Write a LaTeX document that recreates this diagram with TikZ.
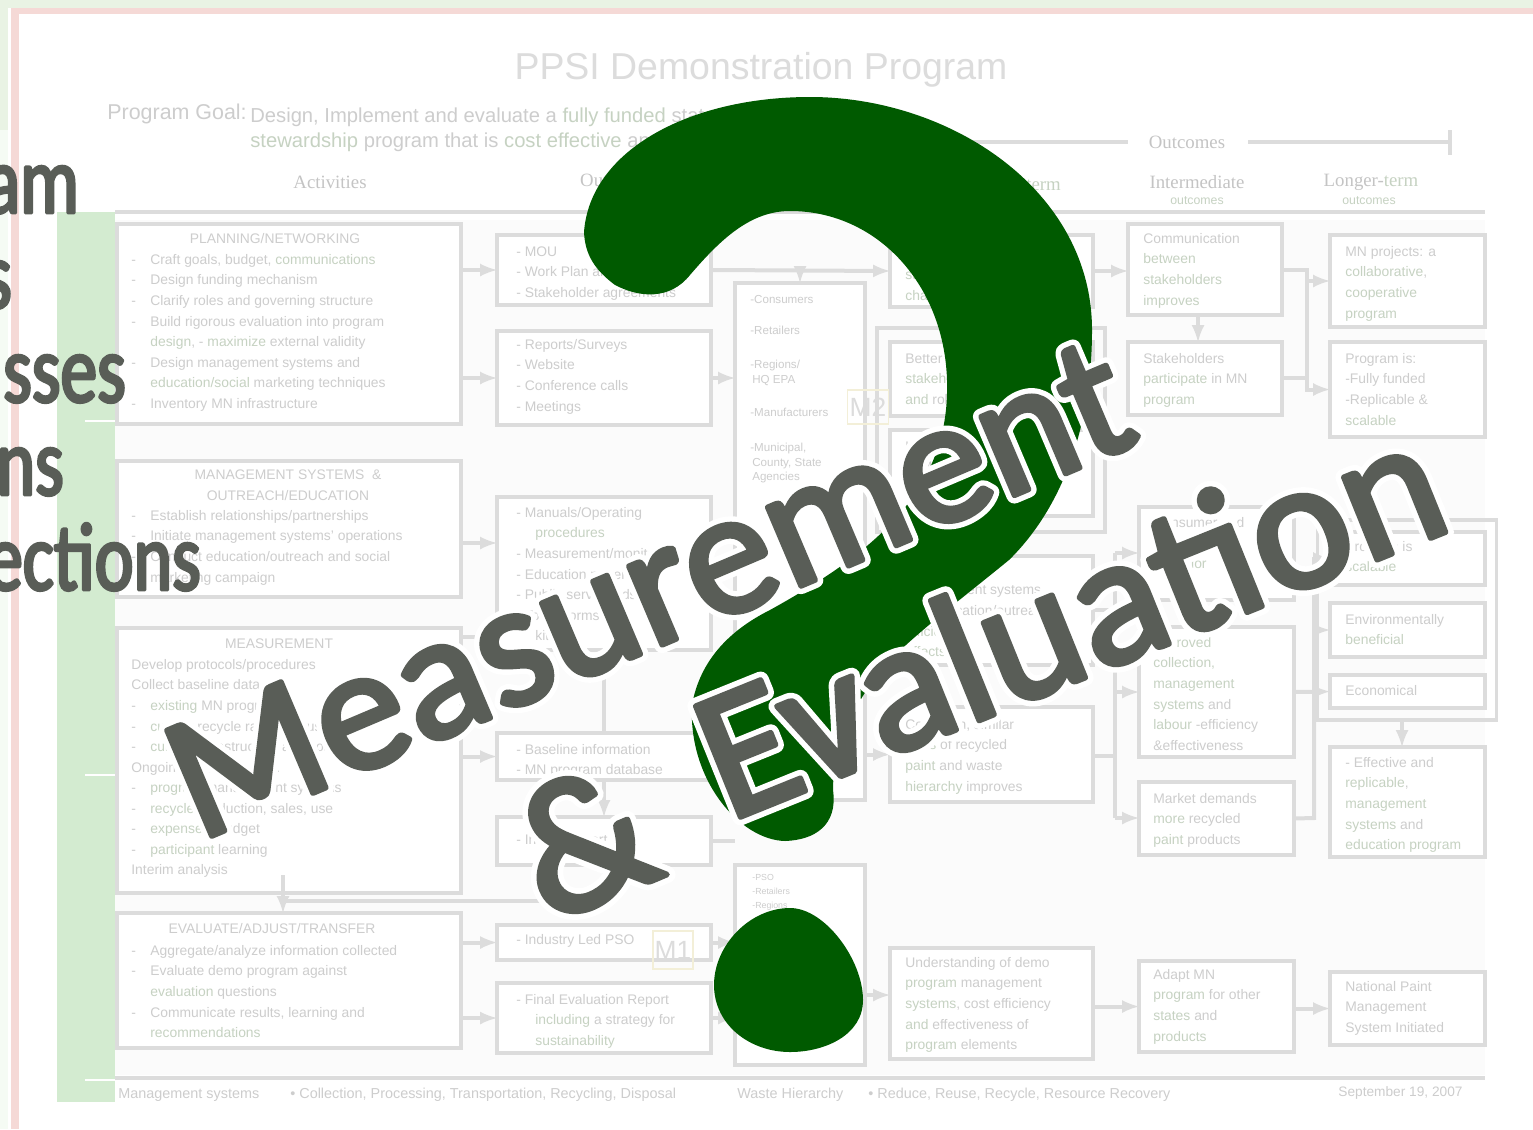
\documentclass[tikz,border=0pt]{standalone}
\usepackage{fontspec}
\usepackage{tikz}
\usetikzlibrary{shapes.geometric, arrows}
\setmainfont{Liberation Sans}
\newfontfamily\slabfont{Liberation Serif}
\newfontfamily\inkfont[FakeBold=3]{Carlito}
\newfontfamily\sideink[FakeBold=3,FakeStretch=0.76]{Carlito}
\newfontfamily\halofont[FakeBold=9]{Carlito}
\definecolor{linegrey}{HTML}{DCDCDC}
\definecolor{textgrey}{HTML}{CDCDCD}
\definecolor{headgrey}{HTML}{C4C4C4}
\definecolor{wavegreen}{HTML}{C6D2C2}
\definecolor{inkgrey}{HTML}{595D57}
\definecolor{qgreen}{HTML}{005A00}
\definecolor{markline}{HTML}{F3EFD8}
\definecolor{topgreen}{HTML}{E9F3E4}
\definecolor{sidegreen}{HTML}{F5FBF4}
\definecolor{edgepink}{HTML}{F5D9D6}
\definecolor{bargreen}{HTML}{D3EBD0}
\definecolor{panelgrey}{HTML}{FBFBFB}
\tikzstyle{link} = [line width=0.08cm,color=linegrey,->,>=latex]
\tikzstyle{plain} = [line width=0.08cm,color=linegrey]
\tikzstyle{pbox} = [draw=linegrey,line width=0.07cm,fill=white,inner sep=0pt,outer sep=0pt]
\tikzstyle{ptext} = [anchor=north west,inner sep=0pt,align=left,text=textgrey,font=\fontsize{7.9}{11.7}\selectfont]
\tikzstyle{phead} = [inner sep=0pt,text=textgrey,align=center,font=\fontsize{7.9}{11.7}\selectfont]
\tikzstyle{colhead} = [inner sep=0pt,text=headgrey,font=\slabfont\fontsize{10.7}{12}\selectfont]
\tikzstyle{foot} = [anchor=west,inner sep=0pt,text=textgrey,font=\fontsize{8.2}{10}\selectfont]
\tikzstyle{mbox} = [draw=markline,line width=0.03cm,inner sep=0pt,outer sep=0pt,text=linegrey,font=\fontsize{15}{15}\selectfont]
\tikzstyle{leftink} = [anchor=base east,text=inkgrey,font=\sideink\fontsize{55}{55}\selectfont]
% box corners, text start, text
\newcommand{\pbx}[8]{
  \node[pbox,minimum width={(#4-#2)*0.02cm},minimum height={(#5-#3)*0.02cm}] (#1) at ({(#2+#4)/2},{(#3+#5)/2}) {};
  \node[ptext] (#1t) at (#6,#7) {#8};
}
\newcommand{\inkline}[6]{
  \node[anchor=base west,rotate=#5,inner sep=0pt,text=white,font=\halofont\fontsize{#4}{#4}\selectfont] (#1h) at (#2,#3) {#6};
  \node[anchor=base west,rotate=#5,inner sep=0pt,text=inkgrey,font=\inkfont\fontsize{#4}{#4}\selectfont] (#1) at (#2,#3) {#6};
}
\newcommand{\dd}{\makebox[0.38cm][l]{-}}
\newcommand{\nn}{\hspace*{0.38cm}}
\newcommand{\wv}[1]{{\color{wavegreen}#1}}
\begin{document}
\begin{tikzpicture}[x=0.02cm,y=-0.02cm]
  \useasboundingbox (0,0) rectangle (1533,1129);
  \clip (0,0) rectangle (1533,1129);
  % Background bands
  \fill[white] (0,0) rectangle (1533,1129);
  \fill[topgreen] (0,0) rectangle (1533,8);
  \fill[topgreen] (0,0) rectangle (8,130);
  \fill[sidegreen] (0,130) rectangle (8,1129);
  \fill[edgepink] (11,8) rectangle (1533,14);
  \fill[edgepink] (11,8) rectangle (19,1129);
  \fill[bargreen] (57,212) rectangle (115,1102);
  \fill[panelgrey] (115,220) rectangle (1485,1075);
  \draw[white,line width=0.03cm] (85,421) -- (115,421);
  \draw[white,line width=0.03cm] (85,775) -- (115,775);
  \draw[white,line width=0.03cm] (85,1080) -- (115,1080);
  % Headers
  \node[inner sep=0pt,text=linegrey,font=\fontsize{21.3}{22}\selectfont] (title) at (761,70) {PPSI Demonstration Program};
  \node[anchor=west,inner sep=0pt,text=textgrey,font=\fontsize{12.2}{14}\selectfont] (goal) at (107,114) {Program Goal:};
  \node[anchor=north west,inner sep=0pt,text=textgrey,align=left,font=\fontsize{11.5}{13.8}\selectfont] (goaltext) at (250,108) {Design, Implement and evaluate a \wv{fully funded} state\\ \wv{stewardship} program that is \wv{cost effective} and};
  \node[colhead] (H1) at (330,182) {Activities};
  \node[colhead] (H2) at (610,182) {Outputs};
  \node[colhead] (H3) at (1020,184) {Short-\wv{term}};
  \node[colhead] (H4) at (1197,182) {Intermediate};
  \node[colhead] (H5) at (1371,182) {Longer-\wv{term}};
  \node[inner sep=0pt,font=\fontsize{7}{8}\selectfont] (H6) at (1197,201) {\wv{outcomes}};
  \node[inner sep=0pt,font=\fontsize{7}{8}\selectfont] (H7) at (1369,201) {\wv{outcomes}};
  \node[colhead] (H8) at (1187,142) {Outcomes};
  \coordinate (R1) at (800,142);
  \coordinate (R2) at (1128,142);
  \coordinate (R3) at (1248,142);
  \coordinate (R4) at (1450,142);
  \coordinate (R5) at (1450,130);
  \coordinate (R6) at (1450,155);
  \draw[plain] (R1) -- (R2);
  \draw[plain] (R3) -- (R4);
  \draw[plain] (R5) -- (R6);
  \coordinate (T1) at (115,212);
  \coordinate (T2) at (1485,212);
  \coordinate (T3) at (115,1078);
  \coordinate (T4) at (1485,1078);
  \draw[plain] (T1) -- (T2);
  \draw[plain] (T3) -- (T4);
  % Activities
  \pbx{A1}{117}{224}{461}{424}{131}{254}{\dd Craft goals, budget, \wv{communications}\\\dd Design funding mechanism\\\dd Clarify roles and governing structure\\\dd Build rigorous evaluation into program\\\nn\wv{design}, - \wv{maximize} external validity\\\dd Design management systems and\\\nn\wv{education/social} marketing techniques\\\dd Inventory MN infrastructure}
  \node[phead] (A1h) at (275,239) {PLANNING/NETWORKING};
  \pbx{A2}{117}{461}{461}{597}{131}{510}{\dd Establish relationships/partnerships\\\dd Initiate management systems' operations\\\dd Conduct education/outreach and social\\\nn marketing campaign}
  \node[phead] (A2h) at (288,485) {MANAGEMENT SYSTEMS \ \&\\OUTREACH/EDUCATION};
  \pbx{A3}{117}{628}{461}{893}{131}{659}{Develop protocols/procedures\\Collect baseline data\\\dd\wv{existing} MN programs\\\dd\wv{current} recycle rates and uses\\\dd\wv{current} infrastructure and costs\\Ongoing data collection:\\\dd\wv{program} management systems\\\dd\wv{recycle} production, sales, use\\\dd\wv{expenses}, budget\\\dd\wv{participant} learning\\Interim analysis}
  \node[phead] (A3h) at (279,644) {MEASUREMENT};
  \pbx{A4}{117}{913}{461}{1048}{131}{945}{\dd Aggregate/analyze information collected\\\dd Evaluate demo program against\\\nn\wv{evaluation} questions\\\dd Communicate results, learning and\\\nn\wv{recommendations}}
  \node[phead] (A4h) at (272,929) {EVALUATE/ADJUST/TRANSFER};
  % Outputs
  \pbx{O1}{497}{235}{711}{305}{516}{246}{- MOU\\- Work Plan and\\- Stakeholder agreements}
  \pbx{O2}{497}{331}{711}{425}{516}{339}{- Reports/Surveys\\- Website\\- Conference calls\\- Meetings}
  \pbx{O3}{497}{497}{711}{650}{516}{507}{- Manuals/Operating\\\nn\wv{procedures}\\- Measurement/monitor\\- Education materials\\- Public service ads\\- Tools, forms and\\\nn kits}
  \pbx{O4}{497}{733}{711}{780}{516}{744}{- Baseline information\\- MN program database}
  \pbx{O5}{497}{817}{711}{865}{516}{834}{- Interim report}
  \pbx{O6}{497}{925}{711}{960}{516}{934}{- Industry Led PSO}
  \pbx{O7}{497}{983}{711}{1053}{516}{994}{- Final Evaluation Report\\\nn\wv{including} a strategy for\\\nn\wv{sustainability}}
  % Audiences
  \pbx{P1}{735}{283}{865}{800}{750}{293}{}
  \node[ptext,font=\fontsize{6.6}{8.5}\selectfont] (P1w) at (750,295) {-Consumers\\[0.32cm]-Retailers\\[0.38cm]-Regions/\\ \,HQ EPA\\[0.36cm]-Manufacturers\\[0.4cm]-Municipal,\\ \,County, State\\ \,Agencies};
  \pbx{P2}{735}{865}{865}{1065}{752}{874}{}
  \node[ptext,font=\fontsize{5}{8}\selectfont] (P2w) at (752,874) {-PSO\\-Retailers\\-Regions};
  % Short-term
  \node[pbox,fill=none,minimum width=4.56cm,minimum height=4.08cm] (SG) at (991,430) {};
  \pbx{S1}{890}{235}{1093}{307}{905}{249}{MN\\\wv{stakeholders}\\\wv{change}}
  \pbx{S2}{890}{342}{1093}{416}{905}{353}{Better understanding\\\wv{stakeholders}\\\wv{and} roles}
  \pbx{S3}{890}{430}{1093}{516}{905}{441}{Understanding\\of MN issues}
  \pbx{S4}{890}{556}{1093}{665}{905}{585}{Management systems\\and education/outreach\\\wv{efficiency}\\\wv{effects}}
  \pbx{S5}{890}{707}{1093}{802}{905}{719}{Collection, similar\\\wv{rates} of recycled\\\wv{paint} and waste\\\wv{hierarchy} improves}
  \pbx{S6}{890}{948}{1093}{1059}{905}{957}{Understanding of demo\\\wv{program} management\\\wv{systems}, cost efficiency\\\wv{and} effectiveness of\\\wv{program} elements}
  % Intermediate
  \pbx{I1}{1128}{224}{1282}{315}{1143}{233}{Communication\\\wv{between}\\\wv{stakeholders}\\\wv{improves}}
  \pbx{I2}{1128}{342}{1282}{415}{1143}{353}{Stakeholders\\\wv{participate} in MN\\\wv{program}}
  \pbx{I3}{1139}{507}{1294}{600}{1153}{517}{Consumer and\\\wv{retailer}\\\wv{behavior}}
  \pbx{I4}{1139}{627}{1294}{757}{1153}{637}{\wv{Improved}\\\wv{collection,}\\\wv{management}\\\wv{systems} and\\\wv{labour} -efficiency\\\&effectiveness}
  \pbx{I5}{1139}{782}{1294}{855}{1153}{793}{Market demands\\\wv{more} recycled\\\wv{paint} products}
  \pbx{I6}{1139}{961}{1294}{1052}{1153}{969}{Adapt MN\\\wv{program} for other\\\wv{states} and\\\wv{products}}
  % Longer-term
  \node[pbox,fill=none,minimum width=3.58cm,minimum height=4cm] (LG) at (1407,620) {};
  \pbx{L1}{1330}{235}{1485}{327}{1345}{246}{MN projects: a\\\wv{collaborative},\\\wv{cooperative}\\\wv{program}}
  \pbx{L2}{1330}{342}{1485}{437}{1345}{353}{Program is:\\-Fully funded\\-Replicable \&\\\wv{scalable}}
  \pbx{L3}{1330}{532}{1485}{585}{1345}{541}{Program is\\\wv{scalable}}
  \pbx{L4}{1330}{603}{1485}{657}{1345}{614}{Environmentally\\\wv{beneficial}}
  \pbx{L5}{1330}{675}{1485}{708}{1345}{685}{Economical}
  \pbx{L6}{1330}{747}{1485}{857}{1345}{757}{- Effective and\\\wv{replicable},\\\wv{management}\\\wv{systems} and\\\wv{education program}}
  \pbx{L7}{1330}{972}{1485}{1045}{1345}{981}{National Paint\\Management\\System Initiated}
  \node[mbox,minimum width=0.82cm,minimum height=0.68cm] (M2) at (868,407) {M2};
  \node[mbox,minimum width=0.8cm,minimum height=0.76cm] (M1) at (673,950) {M1};
  % Connectors
  \coordinate (J1) at (800,270);
  \coordinate (J2) at (461,543);
  \coordinate (J3) at (461,637);
  \coordinate (J4) at (283,875);
  \coordinate (J5) at (283,901);
  \coordinate (J6) at (1307,270);
  \coordinate (J7) at (1307,378);
  \coordinate (J8) at (1115,553);
  \coordinate (J9) at (1115,818);
  \coordinate (J10) at (1314,818);
  \coordinate (J11) at (865,995);
  \coordinate (J12) at (1115,756);
  \coordinate (J13) at (1115,610);
  \coordinate (J14) at (1198,315);
  \coordinate (J15) at (1402,720);
  \draw[link] (A1.east |- O1.west) -- (O1.west);
  \draw[link] (A1.east |- O2.west) -- (O2.west);
  \draw[link] (O1.east) -- (S1.west);
  \draw[link] (J1) -- (J1 |- P1.north);
  \draw[link] (O2.east) -- (O2.east -| P1.west);
  \draw[link] (J2) -- (J2 -| O3.west);
  \draw[link] (J3) -- (J3 -| O3.west);
  \draw[link] (A3.east |- O4.west) -- (O4.west);
  \draw[plain] (O3.south) -- (O4.north);
  \draw[link] (O4.south) -- (O5.north);
  \draw[link] (J4) -- (J4 |- A4.north);
  \draw[plain] (O5.south) |- (J5);
  \draw[plain] (O5.east) -- (O5.east -| P2.west);
  \draw[link] (A4.east |- O6.west) -- (O6.west);
  \draw[link] (A4.east |- O7.west) -- (O7.west);
  \draw[link] (O6.east) -- (O6.east -| P2.west);
  \draw[link] (O7.east) -- (O7.east -| P2.west);
  \draw[link] (J11) -- (J11 -| S6.west);
  \draw[link] (P1.east |- S4.west) -- (S4.west);
  \draw[link] (P1.east |- S5.west) -- (S5.west);
  \draw[link] (S6.east |- I6.west) -- (I6.west);
  \draw[link] (I6.east |- L7.west) -- (L7.west);
  \draw[link] (S1.east) -- (S1.east -| I1.west);
  \draw[link] (J14) -- (J14 |- I2.north);
  \draw[link] (I1.east |- J6) -- (J6) |- (L1.west);
  \draw[link] (I2.east |- J7) -- (J7) |- (L2.west);
  \draw[plain] (J6) -- (J7);
  \draw[plain] (J8) -- (J9);
  \draw[plain] (S5.east |- J12) -- (J12);
  \draw[plain] (S4.east |- J13) -- (J13);
  \draw[link] (J8) -- (J8 -| I3.west);
  \draw[link] (J12 |- I4.west) -- (I4.west);
  \draw[link] (J9) -- (J9 -| I5.west);
  \draw[link] (I4.east) -- (L5.west);
  \draw[link] (I5.east) -- (J10) |- (L4.west);
  \draw[link] (J10) |- (L3.west);
  \draw[link] (J15) -- (J15 |- L6.north);
  % Footer
  \node[foot] (F1) at (118,1095) {Management systems};
  \node[foot] (F2) at (290,1095) {• Collection, Processing, Transportation, Recycling, Disposal};
  \node[foot] (F3) at (737,1095) {Waste Hierarchy};
  \node[foot] (F4) at (868,1095) {• Reduce, Reuse, Recycle, Resource Recovery};
  \node[foot,font=\fontsize{7.8}{10}\selectfont] (F5) at (1338,1093) {September 19, 2007};
  % Question mark
  \fill[qgreen] (584,232) .. controls (590,150) and (690,97) .. (810,97)
    .. controls (950,97) and (1092,190) .. (1092,330)
    .. controls (1092,430) and (1060,510) .. (1009,560)
    .. controls (960,600) and (920,630) .. (887,663)
    .. controls (860,695) and (833,740) .. (833,790)
    .. controls (838,825) and (815,840) .. (785,841)
    .. controls (740,840) and (688,780) .. (692,705)
    .. controls (700,660) and (730,630) .. (770,610)
    .. controls (860,560) and (945,500) .. (947,393)
    .. controls (950,290) and (880,211) .. (790,211)
    .. controls (750,211) and (720,240) .. (690,275)
    .. controls (670,300) and (640,298) .. (615,285)
    .. controls (595,270) and (585,255) .. (584,232) -- cycle;
  \fill[qgreen] (790,908) .. controls (825,908) and (863,960) .. (863,1000)
    .. controls (863,1035) and (825,1052) .. (790,1052)
    .. controls (750,1052) and (714,1025) .. (714,985)
    .. controls (714,945) and (750,908) .. (790,908) -- cycle;
  % Lettering
  \begin{scope}[line join=round,line cap=round]
    \inkline{W1}{198}{842}{102}{23}{Measurement}
    \inkline{W2}{548}{925}{108}{23}{\&}
    \inkline{W3}{728}{822}{106}{22}{Evaluation}
    \node[leftink] (E1) at (85,213) {am};
    \node[leftink] (E2) at (18,308) {s};
    \node[leftink] (E3) at (132,402) {sses};
    \node[leftink] (E4) at (70,495) {ns};
    \node[leftink] (E5) at (207,590) {ections};
  \end{scope}
\end{tikzpicture}
\end{document}
